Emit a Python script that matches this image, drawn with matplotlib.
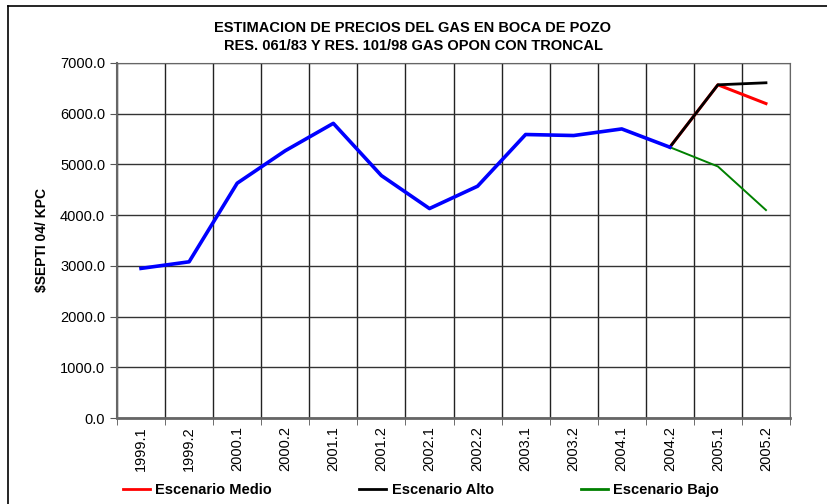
import numpy as np
import matplotlib.pyplot as plt
from matplotlib.lines import Line2D

plt.rcParams['font.family'] = ['Liberation Sans', 'DejaVu Sans']

periods = ['1999.1', '1999.2', '2000.1', '2000.2', '2001.1', '2001.2', '2002.1',
           '2002.2', '2003.1', '2003.2', '2004.1', '2004.2', '2005.1', '2005.2']
nan = np.nan
historico = [2950, 3080, 4630, 5270, 5810, 4780, 4130, 4570, 5590, 5570, 5700, 5340, nan, nan]
medio = [nan] * 11 + [5340, 6570, 6200]
alto = [nan] * 11 + [5340, 6570, 6610]
bajo = [nan] * 11 + [5340, 4960, 4100]

fig = plt.figure(figsize=(8.27, 5.04), dpi=100)
ax = fig.add_axes([117/827, 86/504, (790-117)/827, (418-63)/504])

x = np.arange(len(periods))
ax.plot(x, medio, color='#ff0000', lw=2.2, label='Escenario Medio', zorder=3)
ax.plot(x, alto, color='#000000', lw=2.0, label='Escenario Alto', zorder=4)
ax.plot(x, bajo, color='#008000', lw=1.4, label='Escenario Bajo', zorder=3)
ax.plot(x, historico, color='#0000ff', lw=2.6, zorder=5)

ax.set_xlim(-0.5, len(periods) - 0.5)
ax.set_ylim(0, 7000)
ax.set_yticks(np.arange(0, 7001, 1000))
ax.set_yticklabels([f'{v:.1f}' for v in range(0, 7001, 1000)], fontsize=10.5)
ax.set_xticks(x)
ax.set_xticklabels(periods, rotation=90, fontsize=10.5)
ax.tick_params(axis='x', length=0, pad=6)
ax.tick_params(axis='y', length=5, direction='out', color='#555555')
ax.set_xticks(np.arange(-0.5, len(periods)), minor=True)
ax.tick_params(axis='x', which='minor', length=5, direction='out', color='#555555')
ax.grid(True, axis='y', color='#333333', lw=1)
ax.grid(True, axis='x', which='minor', color='#222222', lw=1)
ax.set_axisbelow(True)
for s in ax.spines.values():
    s.set_color('#666666')
ax.spines['bottom'].set_linewidth(2)
ax.spines['left'].set_linewidth(1.5)

ax.set_ylabel('$SEPTI 04/ KPC', fontsize=10, fontweight='bold', labelpad=8)

fig.text(413/827, 1 - 28/504, 'ESTIMACION DE PRECIOS DEL GAS EN BOCA DE POZO',
         ha='center', va='center', fontsize=10.5, fontweight='bold')
fig.text(413/827, 1 - 46/504, 'RES. 061/83 Y RES. 101/98 GAS OPON CON TRONCAL',
         ha='center', va='center', fontsize=10.5, fontweight='bold')

handles = [Line2D([], [], color='#ff0000', lw=2),
           Line2D([], [], color='#000000', lw=2),
           Line2D([], [], color='#008000', lw=2)]
fig.legend(handles, ['Escenario Medio', 'Escenario Alto', 'Escenario Bajo'],
           loc='center left', bbox_to_anchor=(110/827, 1 - 490/504), ncol=3,
           frameon=False, handlelength=1.85, handletextpad=0.35, columnspacing=6.0,
           prop={'size': 10.5, 'weight': 'bold'})

# outer frame (left and top edges visible)
fig.add_artist(Line2D([8/827, 8/827], [0, 1 - 6/504], color='black', lw=1.2))
fig.add_artist(Line2D([8/827, 1], [1 - 6/504, 1 - 6/504], color='black', lw=1.2))

fig.savefig('out.png', dpi=100)
